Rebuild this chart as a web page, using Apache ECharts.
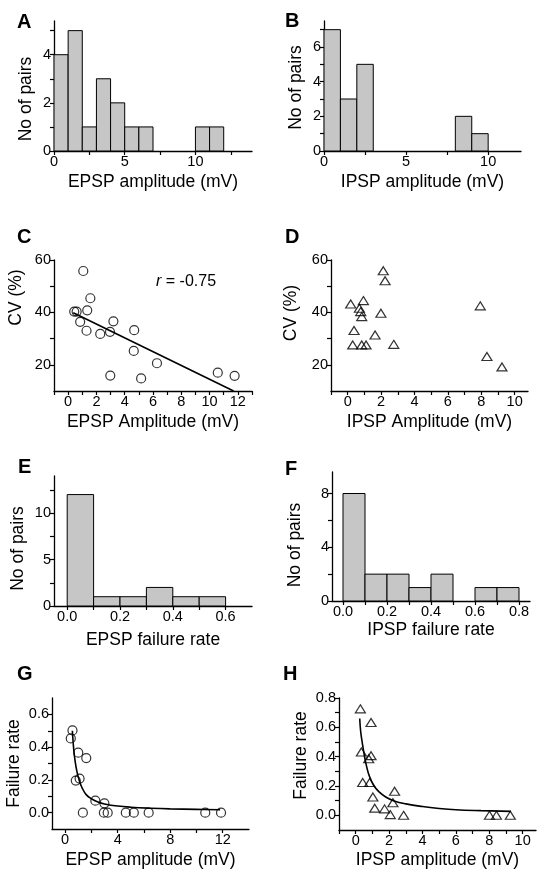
<!DOCTYPE html>
<html><head><meta charset="utf-8">
<script src="https://cdn.jsdelivr.net/npm/echarts@6/dist/echarts.min.js"></script>
<style>html,body{margin:0;padding:0;background:#fff}#c{width:545px;height:875px}</style>
</head><body><div id="c"></div>
<script>
// ---- Panel A: EPSP amplitude histogram ----
const epspAmpBinStart = [0, 1, 2, 3, 4, 5, 6, 10, 11];
const epspAmpBinCount = [4, 5, 1, 3, 2, 1, 1, 1, 1];
const epspAmpBinWidth = 1;
// ---- Panel B: IPSP amplitude histogram ----
const ipspAmpBinStart = [0, 1, 2, 8, 9];
const ipspAmpBinCount = [7, 3, 5, 2, 1];
const ipspAmpBinWidth = 1;
// ---- Panel C: CV vs EPSP amplitude ----
const cEpspAmp = [1.07, 0.43, 0.6, 1.35, 1.57, 0.85, 1.3, 2.27, 2.96, 3.2, 4.67, 4.64, 2.98, 5.16, 6.28, 10.58, 11.77];
const cEpspCV  = [55.8, 40.3, 40.3, 40.8, 45.4, 36.4, 33.0, 31.8, 32.6, 36.6, 33.2, 25.3, 15.9, 14.8, 20.6, 17.0, 15.8];
const cFitX = [0.36, 11.7];
const cFitY = [39.9, 10.0];
const cCorrLabel = '-0.75';
// ---- Panel D: CV vs IPSP amplitude ----
const dIpspAmp = [2.13, 2.24, 0.18, 0.94, 0.70, 0.78, 0.84, 1.99, 0.38, 1.64, 0.30, 0.84, 1.10, 2.76, 7.94, 8.34, 9.24];
const dIpspCV  = [55.9, 52.1, 43.2, 44.5, 41.6, 40.3, 38.4, 39.7, 33.1, 31.4, 27.6, 27.6, 27.6, 27.8, 42.5, 23.2, 19.2];
// ---- Panel E: EPSP failure-rate histogram ----
const epspFailBinStart = [0, 0.1, 0.2, 0.3, 0.4, 0.5];
const epspFailBinCount = [12, 1, 1, 2, 1, 1];
const epspFailBinWidth = 0.1;
// ---- Panel F: IPSP failure-rate histogram ----
const ipspFailBinStart = [0, 0.1, 0.2, 0.3, 0.4, 0.6, 0.7];
const ipspFailBinCount = [8, 2, 2, 1, 2, 1, 1];
const ipspFailBinWidth = 0.1;
// ---- Panel G: failure rate vs EPSP amplitude ----
const gEpspAmp  = [0.56, 0.43, 1.0, 1.61, 0.81, 1.1, 2.3, 2.99, 1.35, 2.95, 3.24, 4.62, 5.23, 6.36, 10.67, 11.87];
const gEpspFail = [0.502, 0.453, 0.366, 0.333, 0.196, 0.208, 0.073, 0.057, 0, 0, 0, 0, 0, 0, 0, 0];
const gFitX = [0.55, 0.65, 0.75, 0.9, 1.1, 1.3, 1.6, 2.0, 2.5, 3.0, 4.0, 5.0, 6.5, 8.0, 10.0, 11.8];
const gFitY = [0.50, 0.39, 0.32, 0.25, 0.19, 0.15, 0.11, 0.085, 0.065, 0.053, 0.040, 0.033, 0.027, 0.023, 0.020, 0.018];
// ---- Panel H: failure rate vs IPSP amplitude ----
const hIpspAmp  = [0.28, 0.92, 0.34, 0.92, 0.78, 0.42, 0.84, 1.03, 1.14, 1.73, 2.33, 2.23, 2.07, 2.87, 8.01, 8.43, 9.26];
const hIpspFail = [0.726, 0.633, 0.432, 0.407, 0.386, 0.224, 0.224, 0.125, 0.049, 0.044, 0.164, 0.086, 0.005, 0, 0, 0, 0];
const hFitX = [0.24, 0.3, 0.4, 0.5, 0.6, 0.75, 0.9, 1.1, 1.4, 1.8, 2.3, 3.0, 4.0, 5.0, 6.0, 7.5, 9.3];
const hFitY = [0.66, 0.57, 0.49, 0.42, 0.36, 0.29, 0.245, 0.20, 0.16, 0.125, 0.098, 0.078, 0.060, 0.047, 0.038, 0.032, 0.027];

const FONT = '"Liberation Sans", Arial, sans-serif';
const chart = echarts.init(document.getElementById('c'), null, {renderer: 'canvas'});

const grids = [
  {left: 54, top: 21, width: 198, height: 130},
  {left: 324, top: 21, width: 197, height: 130},
  {left: 54, top: 260, width: 198, height: 131},
  {left: 331, top: 260, width: 197, height: 131},
  {left: 54, top: 476, width: 198, height: 130},
  {left: 332, top: 472, width: 198, height: 129},
  {left: 52, top: 698, width: 197, height: 131},
  {left: 339, top: 698, width: 197, height: 132}
];

const xAxes = [], yAxes = [];
const lineSt = {color: '#000', width: 1.3};
function fmt(dec) { return v => Number(v).toFixed(dec); }
function allTicks(a, b) { return a.concat(b).sort((p, q) => p - q); }
function axisDef(gi, min, max, majors, minors, dec, name, gap, pad, pos) {
  return {
    gridIndex: gi, type: 'value', min, max, position: pos,
    name, nameLocation: 'middle', nameGap: gap,
    nameTextStyle: {fontFamily: FONT, fontSize: 17.5, color: '#000', padding: pad},
    axisLine: {show: true, onZero: false, lineStyle: lineSt},
    axisTick: {show: true, customValues: allTicks(majors, minors), length: 4, lineStyle: {color: '#000', width: 1.2}},
    axisLabel: {show: true, customValues: majors, formatter: fmt(dec), margin: 3, fontFamily: FONT, fontSize: 14.5, color: '#000'},
    splitLine: {show: false}
  };
}
function addX(gi, min, max, majors, minors, dec, name, gap) {
  xAxes.push(axisDef(gi, min, max, majors, minors, dec, name, gap, [0, 0, 0, 0], 'bottom'));
  return xAxes.length - 1;
}
function addY(gi, min, max, majors, minors, dec, name, gap, pad) {
  yAxes.push(axisDef(gi, min, max, majors, minors, dec, name, gap, pad, 'left'));
  return yAxes.length - 1;
}

const ax = [];
// A
ax.push([addX(0, 0, 14, [0, 5, 10], [2.5, 7.5, 12.5], 0, 'EPSP amplitude (mV)', 22),
         addY(0, 0, 5.4, [0, 2, 4], [1, 3, 5], 0, 'No of pairs', 19, [0, 26, 0, 0])]);
// B
ax.push([addX(1, 0, 12, [0, 5, 10], [2.5, 7.5], 0, 'IPSP amplitude (mV)', 22),
         addY(1, 0, 7.5, [0, 2, 4, 6], [1, 3, 5, 7], 0, 'No of pairs', 19, [0, 3, 0, 0])]);
// C
ax.push([addX(2, -1, 13, [0, 2, 4, 6, 8, 10, 12], [-1, 1, 3, 5, 7, 9, 11, 13], 0, 'EPSP Amplitude (mV)', 22),
         addY(2, 10, 60, [20, 40, 60], [30, 50], 0, 'CV (%)', 29, [0, 0, 0, 56])]);
// D
ax.push([addX(3, -1, 10.8, [0, 2, 4, 6, 8, 10], [-1, 1, 3, 5, 7, 9], 0, 'IPSP Amplitude (mV)', 22),
         addY(3, 10, 60, [20, 40, 60], [30, 50], 0, 'CV (%)', 31, [0, 0, 0, 25])]);
// E
ax.push([addX(4, -0.05, 0.7, [0, 0.2, 0.4, 0.6], [0.1, 0.3, 0.5], 1, 'EPSP failure rate', 25),
         addY(4, 0, 14, [0, 5, 10], [2.5, 7.5, 12.5], 0, 'No of pairs', 27, [0, 15, 0, 0])]);
// F
ax.push([addX(5, -0.05, 0.85, [0, 0.2, 0.4, 0.6, 0.8], [0.1, 0.3, 0.5, 0.7], 1, 'IPSP failure rate', 20),
         addY(5, 0, 9.6, [0, 4, 8], [2, 6], 0, 'No of pairs', 28, [0, 17, 0, 0])]);
// G
ax.push([addX(6, -1, 14, [0, 4, 8, 12], [2, 6, 10], 0, 'EPSP amplitude (mV)', 22),
         addY(6, -0.1, 0.7, [0, 0.2, 0.4, 0.6], [0.1, 0.3, 0.5], 1, 'Failure rate', 29, [0, 0, 0, 0])]);
// H
ax.push([addX(7, -1, 10.8, [0, 2, 4, 6, 8, 10], [-1, 1, 3, 5, 7, 9], 0, 'IPSP amplitude (mV)', 21),
         addY(7, -0.1, 0.8, [0, 0.2, 0.4, 0.6, 0.8], [0.1, 0.3, 0.5, 0.7], 1, 'Failure rate', 29, [0, 0, 0, 17])]);

function hist(p, starts, counts, w) {
  return {
    type: 'custom', xAxisIndex: ax[p][0], yAxisIndex: ax[p][1],
    data: starts.map((s, i) => [s, s + w, counts[i]]),
    encode: {x: [0, 1], y: 2},
    renderItem: (params, api) => {
      const p0 = api.coord([api.value(0), 0]);
      const p1 = api.coord([api.value(1), api.value(2)]);
      return {type: 'rect', shape: {x: p0[0], y: p1[1], width: p1[0] - p0[0], height: p0[1] - p1[1]},
              style: {fill: '#c6c6c6', stroke: '#000', lineWidth: 1}};
    }
  };
}
function zip(a, b) { return a.map((v, i) => [v, b[i]]); }
function scatter(p, xs, ys, symbol, size) {
  return {type: 'scatter', xAxisIndex: ax[p][0], yAxisIndex: ax[p][1], data: zip(xs, ys),
          symbol, symbolSize: size, itemStyle: {color: 'rgba(0,0,0,0)', borderColor: '#000', borderWidth: 1.2}, z: 3};
}
function fit(p, xs, ys, smooth) {
  return {type: 'line', xAxisIndex: ax[p][0], yAxisIndex: ax[p][1], data: zip(xs, ys), smooth,
          showSymbol: false, lineStyle: {color: '#000', width: 1.6}, z: 4, clip: false};
}

const series = [
  hist(0, epspAmpBinStart, epspAmpBinCount, epspAmpBinWidth),
  hist(1, ipspAmpBinStart, ipspAmpBinCount, ipspAmpBinWidth),
  scatter(2, cEpspAmp, cEpspCV, 'circle', 9),
  fit(2, cFitX, cFitY, false),
  scatter(3, dIpspAmp, dIpspCV, 'triangle', [10, 8]),
  hist(4, epspFailBinStart, epspFailBinCount, epspFailBinWidth),
  hist(5, ipspFailBinStart, ipspFailBinCount, ipspFailBinWidth),
  scatter(6, gEpspAmp, gEpspFail, 'circle', 9),
  fit(6, gFitX, gFitY, 0.4),
  scatter(7, hIpspAmp, hIpspFail, 'triangle', [10, 8]),
  fit(7, hFitX, hFitY, 0.4)
];

const letters = [['A', 17, 12], ['B', 285, 11], ['C', 17, 227], ['D', 285, 227],
                 ['E', 18, 457], ['F', 285, 459], ['G', 17, 664], ['H', 283, 664]];
const graphic = letters.map(([t, x, y]) => ({type: 'text', left: x, top: y,
  style: {text: t, font: 'bold 20px ' + FONT, fill: '#000'}}));
graphic.push({type: 'text', left: 156, top: 274,
  style: {text: '{i|r} = ' + cCorrLabel, font: '16px ' + FONT, fill: '#000',
          rich: {i: {fontStyle: 'italic', fontSize: 16, fontFamily: FONT}}}});

chart.setOption({
  backgroundColor: '#fff',
  animation: false,
  grid: grids,
  xAxis: xAxes,
  yAxis: yAxes,
  series,
  graphic
});
</script></body></html>
